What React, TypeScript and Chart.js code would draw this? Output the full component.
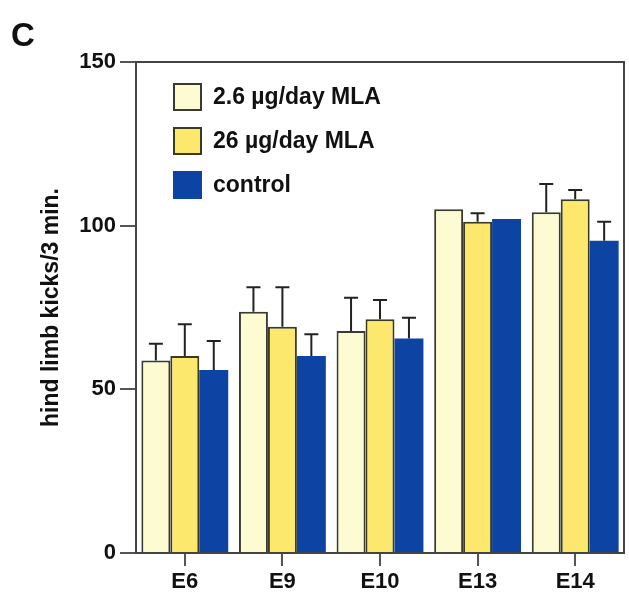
import React, { useEffect, useRef } from "react";
import { Chart, registerables } from "chart.js";

Chart.register(...registerables);

const categories = ["E6", "E9", "E10", "E13", "E14"];
const seriesLabels = ["2.6 \u00b5g/day MLA", "26 \u00b5g/day MLA", "control"];
const lowDose = [58.8, 73.7, 67.8, 105.0, 104.1];
const lowDoseErr = [5.1, 7.5, 10.2, 0, 8.6];
const highDose = [60.2, 69.1, 71.4, 101.2, 108.1];
const highDoseErr = [9.7, 12.1, 5.9, 2.6, 2.8];
const control = [55.9, 60.2, 65.5, 102.0, 95.4];
const controlErr = [8.9, 6.6, 6.4, 0, 5.8];
const yTicks = [0, 50, 100, 150];
const yTitle = "hind limb kicks/3 min.";
const panelLetter = "C";

const FONT = "'Liberation Sans', Arial, Helvetica, sans-serif";
const INK = "#222";

const errorBarPlugin = {
  id: "errorBars",
  afterDatasetsDraw(chart: any) {
    const ctx = chart.ctx;
    const yScale = chart.scales.y;
    chart.data.datasets.forEach((ds: any, di: number) => {
      const meta = chart.getDatasetMeta(di);
      meta.data.forEach((el: any, i: number) => {
        const err = ds.errUp[i];
        if (!err) return;
        const top = yScale.getPixelForValue(ds.data[i] + err);
        ctx.save();
        ctx.strokeStyle = INK;
        ctx.lineWidth = 2;
        ctx.beginPath();
        ctx.moveTo(el.x, el.y);
        ctx.lineTo(el.x, top);
        ctx.moveTo(el.x - 7, top);
        ctx.lineTo(el.x + 7, top);
        ctx.stroke();
        ctx.restore();
      });
    });
  },
};

const framePlugin = {
  id: "frame",
  afterDatasetsDraw(chart: any) {
    const { ctx, chartArea } = chart;
    ctx.save();
    ctx.strokeStyle = "#444";
    ctx.lineWidth = 2;
    ctx.beginPath();
    ctx.moveTo(chartArea.left, chartArea.top);
    ctx.lineTo(chartArea.right, chartArea.top);
    ctx.lineTo(chartArea.right, chartArea.bottom);
    ctx.stroke();
    ctx.restore();
  },
};

const legendPlugin = {
  id: "customLegend",
  afterDraw(chart: any) {
    const ctx = chart.ctx;
    const boxX = 174;
    const rows = [97, 141, 185];
    ctx.save();
    chart.data.datasets.forEach((ds: any, i: number) => {
      const cy = rows[i];
      ctx.fillStyle = ds.backgroundColor;
      ctx.fillRect(boxX, cy - 13, 27, 26);
      ctx.strokeStyle = ds.borderColor;
      ctx.lineWidth = 2;
      ctx.strokeRect(boxX, cy - 13, 27, 26);
      ctx.fillStyle = "#111";
      ctx.font = `bold 23px ${FONT}`;
      ctx.textBaseline = "middle";
      ctx.textAlign = "left";
      ctx.fillText(ds.label, 213, cy + 1);
    });
    ctx.font = `bold 33px ${FONT}`;
    ctx.textBaseline = "alphabetic";
    ctx.fillText(panelLetter, 11, 46);
    ctx.restore();
  },
};

export default function App() {
  const ref = useRef<HTMLCanvasElement | null>(null);
  useEffect(() => {
    if (!ref.current) return;
    Chart.defaults.font.family = FONT;
    const chart = new Chart(ref.current, {
      type: "bar",
      data: {
        labels: categories,
        datasets: [
          {
            label: seriesLabels[0],
            data: lowDose,
            errUp: lowDoseErr,
            backgroundColor: "#fdfbd2",
            borderColor: "#3a3a30",
            borderWidth: 2,
          } as any,
          {
            label: seriesLabels[1],
            data: highDose,
            errUp: highDoseErr,
            backgroundColor: "#fbe86c",
            borderColor: "#3a3a20",
            borderWidth: 2,
          } as any,
          {
            label: seriesLabels[2],
            data: control,
            errUp: controlErr,
            backgroundColor: "#0d43a3",
            borderColor: "#0d43a3",
            borderWidth: 0,
          } as any,
        ],
      },
      options: {
        animation: false,
        responsive: false,
        layout: { padding: { top: 62, right: 5, left: 0, bottom: 0 } },
        datasets: { bar: { categoryPercentage: 0.89, barPercentage: 1.0 } },
        plugins: { legend: { display: false }, tooltip: { enabled: false } },
        scales: {
          x: {
            grid: {
              display: true,
              offset: false,
              drawOnChartArea: false,
              drawTicks: true,
              tickLength: 13,
              tickColor: "#555",
              lineWidth: 2,
            },
            border: { display: true, color: "#444", width: 2 },
            ticks: { color: "#111", font: { size: 22, weight: "bold" }, padding: 3 },
            afterFit(scale: any) {
              scale.height = 44;
            },
          },
          y: {
            min: 0,
            max: 150,
            afterBuildTicks(scale: any) {
              scale.ticks = yTicks.map((v) => ({ value: v }));
            },
            grid: {
              display: true,
              drawOnChartArea: false,
              drawTicks: true,
              tickLength: 16,
              tickColor: "#555",
              lineWidth: 2,
            },
            border: { display: true, color: "#444", width: 2 },
            ticks: { color: "#111", font: { size: 22, weight: "bold" }, padding: 4 },
            title: {
              display: true,
              text: yTitle,
              color: "#111",
              font: { size: 23, weight: "bold" },
              padding: { top: 38, bottom: 0 },
            },
            afterFit(scale: any) {
              scale.width = 136;
            },
          },
        },
      } as any,
      plugins: [errorBarPlugin, framePlugin, legendPlugin],
    });
    return () => chart.destroy();
  }, []);
  return (
    <div style={{ position: "fixed", left: 0, top: 0, width: 629, height: 597, background: "#fff" }}>
      <canvas ref={ref} width={629} height={597} style={{ display: "block" }} />
    </div>
  );
}
